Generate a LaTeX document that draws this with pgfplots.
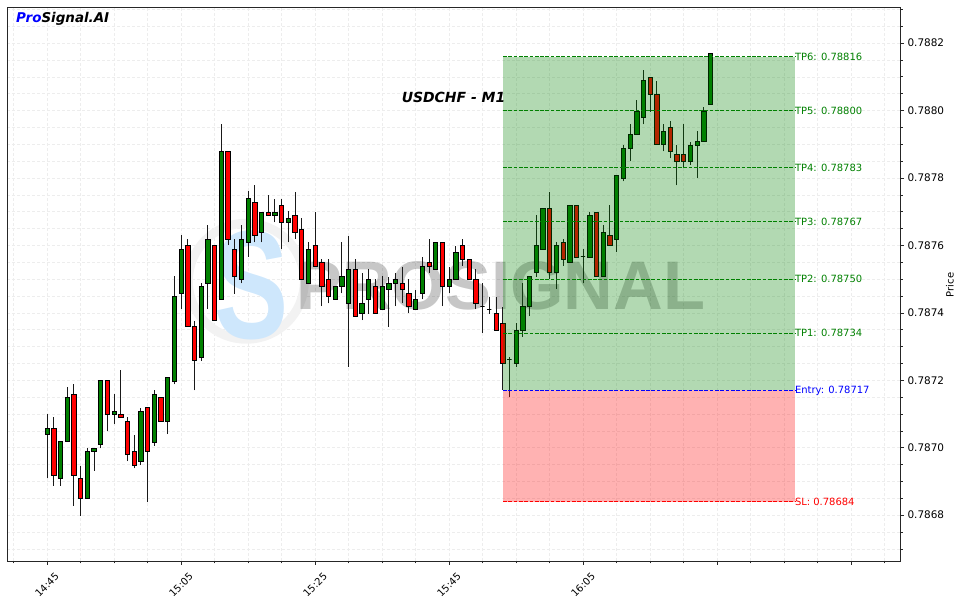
\documentclass[border=0pt]{standalone}
\usepackage{pgfplots}
\usepackage{pgfplotstable}
\usepackage{fontspec}
\pgfplotsset{compat=1.18}
\setmainfont{DejaVu Sans}
\newfontfamily\wmfont{Liberation Sans}
\definecolor{candg}{RGB}{0,128,0}
\definecolor{candr}{RGB}{255,0,0}
\definecolor{lvlg}{RGB}{0,128,0}
\definecolor{wmblue}{RGB}{206,231,252}

\pgfplotstableread{
t o h l c k
0 0.787039 0.787099 0.786909 0.787057 g
1 0.787057 0.787090 0.786887 0.786917 r
2 0.786909 0.787019 0.786887 0.787019 g
3 0.787019 0.787179 0.787019 0.787149 g
4 0.787158 0.787189 0.786828 0.786917 r
5 0.786909 0.786946 0.786798 0.786850 r
6 0.786850 0.786998 0.786850 0.786990 g
7 0.786988 0.786998 0.786931 0.786998 g
8 0.787010 0.787200 0.786998 0.787200 g
9 0.787200 0.787200 0.787049 0.787099 r
10 0.787099 0.787158 0.787069 0.787108 g
11 0.787099 0.787229 0.787090 0.787090 r
12 0.787078 0.787090 0.786960 0.786980 r
13 0.786989 0.787039 0.786939 0.786947 r
14 0.786960 0.787118 0.786948 0.787108 g
15 0.787119 0.787119 0.786838 0.786990 r
16 0.787017 0.787171 0.787006 0.787158 g
17 0.787149 0.787149 0.787077 0.787077 r
18 0.787077 0.787208 0.787040 0.787208 g
19 0.787198 0.787508 0.787188 0.787449 g
20 0.787457 0.787631 0.787411 0.787588 g
21 0.787600 0.787618 0.787360 0.787360 r
22 0.787360 0.787376 0.787170 0.787259 r
23 0.787268 0.787487 0.787258 0.787478 g
24 0.787487 0.787659 0.787411 0.787618 g
25 0.787600 0.787600 0.787378 0.787378 r
26 0.787440 0.787959 0.787440 0.787879 g
27 0.787879 0.787879 0.787601 0.787618 r
28 0.787588 0.787618 0.787457 0.787507 r
29 0.787499 0.787659 0.787487 0.787618 g
30 0.787609 0.787760 0.787566 0.787739 g
31 0.787727 0.787778 0.787609 0.787630 r
32 0.787639 0.787698 0.787609 0.787698 g
33 0.787698 0.787749 0.787689 0.787689 r
34 0.787689 0.787739 0.787668 0.787698 g
35 0.787719 0.787739 0.787589 0.787668 r
36 0.787668 0.787703 0.787609 0.787680 g
37 0.787689 0.787759 0.787619 0.787639 r
38 0.787647 0.787680 0.787499 0.787499 r
39 0.787487 0.787609 0.787487 0.787588 g
40 0.787600 0.787698 0.787539 0.787539 r
41 0.787550 0.787559 0.787420 0.787478 r
42 0.787499 0.787559 0.787428 0.787450 r
43 0.787441 0.787478 0.787441 0.787478 g
44 0.787478 0.787609 0.787458 0.787508 g
45 0.787428 0.787629 0.787240 0.787529 g
46 0.787529 0.787559 0.787389 0.787389 r
47 0.787398 0.787519 0.787378 0.787428 g
48 0.787441 0.787529 0.787398 0.787499 g
49 0.787478 0.787499 0.787398 0.787398 r
50 0.787410 0.787508 0.787410 0.787478 g
51 0.787469 0.787507 0.787359 0.787488 g
52 0.787488 0.787519 0.787420 0.787499 g
53 0.787488 0.787537 0.787428 0.787469 r
54 0.787458 0.787499 0.787399 0.787419 r
55 0.787410 0.787467 0.787410 0.787440 g
56 0.787458 0.787566 0.787440 0.787539 g
57 0.787550 0.787618 0.787519 0.787539 r
58 0.787529 0.787609 0.787529 0.787609 g
59 0.787609 0.787609 0.787420 0.787479 r
60 0.787479 0.787537 0.787458 0.787499 g
61 0.787499 0.787598 0.787499 0.787579 g
62 0.787600 0.787618 0.787539 0.787559 r
63 0.787559 0.787559 0.787499 0.787499 r
64 0.787499 0.787529 0.787410 0.787428 r
65 0.787419 0.787487 0.787341 0.787419 g
66 0.787410 0.787448 0.787398 0.787410 g
67 0.787398 0.787448 0.787349 0.787349 r
68 0.787369 0.787418 0.787171 0.787251 r
69 0.787263 0.787270 0.787149 0.787263 g
70 0.787250 0.787369 0.787240 0.787349 g
71 0.787349 0.787487 0.787329 0.787420 g
72 0.787420 0.787507 0.787390 0.787507 g
73 0.787519 0.787690 0.787507 0.787599 g
74 0.787588 0.787710 0.787588 0.787710 g
75 0.787710 0.787759 0.787500 0.787520 r
76 0.787520 0.787611 0.787470 0.787600 g
77 0.787609 0.787619 0.787539 0.787559 r
78 0.787550 0.787720 0.787550 0.787720 g
79 0.787720 0.787720 0.787566 0.787566 r
80 0.787567 0.787589 0.787487 0.787567 g
81 0.787566 0.787700 0.787566 0.787690 g
82 0.787699 0.787699 0.787507 0.787507 r
83 0.787507 0.787660 0.787507 0.787640 g
84 0.787630 0.787720 0.787599 0.787599 r
85 0.787617 0.787808 0.787580 0.787808 g
86 0.787799 0.787898 0.787790 0.787888 g
87 0.787888 0.787960 0.787849 0.787929 g
88 0.787929 0.788030 0.787929 0.787997 g
89 0.787980 0.788119 0.787959 0.788089 g
90 0.788098 0.788098 0.787997 0.788048 r
91 0.788048 0.788089 0.787900 0.787900 r
92 0.787900 0.787959 0.787879 0.787938 g
93 0.787950 0.787968 0.787858 0.787879 r
94 0.787869 0.787898 0.787778 0.787849 r
95 0.787869 0.787959 0.787829 0.787849 r
96 0.787849 0.787908 0.787839 0.787898 g
97 0.787898 0.787938 0.787800 0.787908 g
98 0.787908 0.788009 0.787908 0.787997 g
99 0.788018 0.788169 0.788018 0.788169 g
}\candles

\pgfplotsset{
  wick/.style={black!90, line width=0.8bp},
  body/.style={draw=black, line width=0.6bp},
  lvl/.style={dash pattern=on 3.7bp off 1.6bp, line width=0.8bp},
}

\begin{document}
\begin{tikzpicture}
\path[use as bounding box] (-7bp,-42bp) rectangle (956bp,561bp);
\begin{axis}[
  at={(0,0)}, anchor=south west,
  width=893bp, height=554bp, scale only axis,
  xmin=-5.97, xmax=127.3,
  ymin=0.786664, ymax=0.788307,
  /pgf/number format/assume math mode=true,
  axis line style={black!85, line width=0.8bp},
  tick align=outside,
  xtick pos=left, ytick pos=right,
  yticklabel pos=right,
  tick style={black!85, line width=0.6bp},
  major tick length=4bp, minor tick length=2.5bp,
  xtick={0,20,40,60,80,100,120},
  xticklabels={\rotatebox{45}{14:45},\rotatebox{45}{15:05},\rotatebox{45}{15:25},\rotatebox{45}{15:45},\rotatebox{45}{16:05},,},
  minor xtick={-5,0,...,125},
  ytick={0.7868,0.787,0.7872,0.7874,0.7876,0.7878,0.788,0.7882},
  minor ytick={0.7867,0.78675,0.7868,0.78685,0.7869,0.78695,0.787,0.78705,0.7871,0.78715,0.7872,0.78725,0.7873,0.78735,0.7874,0.78745,0.7875,0.78755,0.7876,0.78765,0.7877,0.78775,0.7878,0.78785,0.7879,0.78795,0.788,0.78805,0.7881,0.78815,0.7882,0.78825,0.7883},
  scaled y ticks=false,
  yticklabel style={font=\fontsize{10.5}{12}\selectfont, /pgf/number format/.cd, fixed, fixed zerofill, precision=4},
  xticklabel style={font=\fontsize{10}{12}\selectfont, anchor=north, inner sep=0pt, yshift=-7bp},
  grid=both,
  major grid style={black!7, dash pattern=on 3bp off 2bp, line width=0.5bp},
  minor grid style={black!7, dash pattern=on 3bp off 2bp, line width=0.5bp},
  clip=true,
]
% watermark
\draw[black!5, line width=9bp] (rel axis cs:0.268,0.505) circle[radius=58bp];
\node[text=wmblue, font=\wmfont\bfseries\fontsize{155}{155}\selectfont, inner sep=0pt] at (rel axis cs:0.274,0.498) {\scalebox{0.72}[1]{S}};
\node[text=black, text opacity=0.22, font=\wmfont\bfseries\fontsize{69}{69}\selectfont, inner sep=0pt] at (rel axis cs:0.553,0.497) {PROSIGNAL};

% candles
\pgfplotstablegetrowsof{\candles}
\pgfmathtruncatemacro{\N}{\pgfplotsretval-1}
\pgfplotsforeachungrouped \i in {0,...,\N}{%
  \pgfplotstablegetelem{\i}{t}\of\candles \let\T\pgfplotsretval
  \pgfplotstablegetelem{\i}{o}\of\candles \let\O\pgfplotsretval
  \pgfplotstablegetelem{\i}{h}\of\candles \let\H\pgfplotsretval
  \pgfplotstablegetelem{\i}{l}\of\candles \let\L\pgfplotsretval
  \pgfplotstablegetelem{\i}{c}\of\candles \let\C\pgfplotsretval
  \pgfplotstablegetelem{\i}{k}\of\candles \let\K\pgfplotsretval
  \pgfmathsetmacro\TL{\T-0.32}%
  \pgfmathsetmacro\TR{\T+0.32}%
  \edef\doit{%
    \noexpand\addplot[wick, forget plot] coordinates {(\T,\L) (\T,\H)};
    \noexpand\addplot[body, fill=cand\K, forget plot] coordinates {(\TL,\O) (\TR,\O) (\TR,\C) (\TL,\C)} --cycle;
  }%
  \doit
}

% zones
\addplot[draw=none, fill=candg, fill opacity=0.3, forget plot] coordinates {(68.06,0.78717) (111.6,0.78717) (111.6,0.78816) (68.06,0.78816)} --cycle;
\addplot[draw=none, fill=candr, fill opacity=0.3, forget plot] coordinates {(68.06,0.78684) (111.6,0.78684) (111.6,0.78717) (68.06,0.78717)} --cycle;

% levels
\addplot[lvl, lvlg] coordinates {(68.06,0.78816) (111.6,0.78816)};
\addplot[lvl, lvlg] coordinates {(68.06,0.78800) (111.6,0.78800)};
\addplot[lvl, lvlg] coordinates {(68.06,0.78783) (111.6,0.78783)};
\addplot[lvl, lvlg] coordinates {(68.06,0.78767) (111.6,0.78767)};
\addplot[lvl, lvlg] coordinates {(68.06,0.78750) (111.6,0.78750)};
\addplot[lvl, lvlg] coordinates {(68.06,0.78734) (111.6,0.78734)};
\addplot[lvl, blue] coordinates {(68.06,0.78717) (111.6,0.78717)};
\addplot[lvl, red] coordinates {(68.06,0.78684) (111.6,0.78684)};

\begin{scope}[every node/.style={anchor=west, inner sep=0pt, font=\fontsize{10}{12}\selectfont}]
\node[text=lvlg] at (axis cs:111.6,0.78816) {TP6: 0.78816};
\node[text=lvlg] at (axis cs:111.6,0.78800) {TP5: 0.78800};
\node[text=lvlg] at (axis cs:111.6,0.78783) {TP4: 0.78783};
\node[text=lvlg] at (axis cs:111.6,0.78767) {TP3: 0.78767};
\node[text=lvlg] at (axis cs:111.6,0.78750) {TP2: 0.78750};
\node[text=lvlg] at (axis cs:111.6,0.78734) {TP1: 0.78734};
\node[text=blue] at (axis cs:111.6,0.78717) {Entry: 0.78717};
\node[text=red] at (axis cs:111.6,0.78684) {SL: 0.78684};
\end{scope}

\node[font=\bfseries\itshape\fontsize{14}{16}\selectfont, inner sep=0pt] at (rel axis cs:0.5,0.8375) {USDCHF - M1};
\node[anchor=west, font=\bfseries\itshape\fontsize{13.5}{16}\selectfont, inner sep=0pt] at (rel axis cs:0,1) [xshift=9bp, yshift=-12bp] {\textcolor{blue}{Pro}Signal.AI};
\end{axis}
\node[rotate=90, font=\fontsize{10}{12}\selectfont, inner sep=0pt] at (943bp,276bp) {Price};
\end{tikzpicture}
\end{document}
